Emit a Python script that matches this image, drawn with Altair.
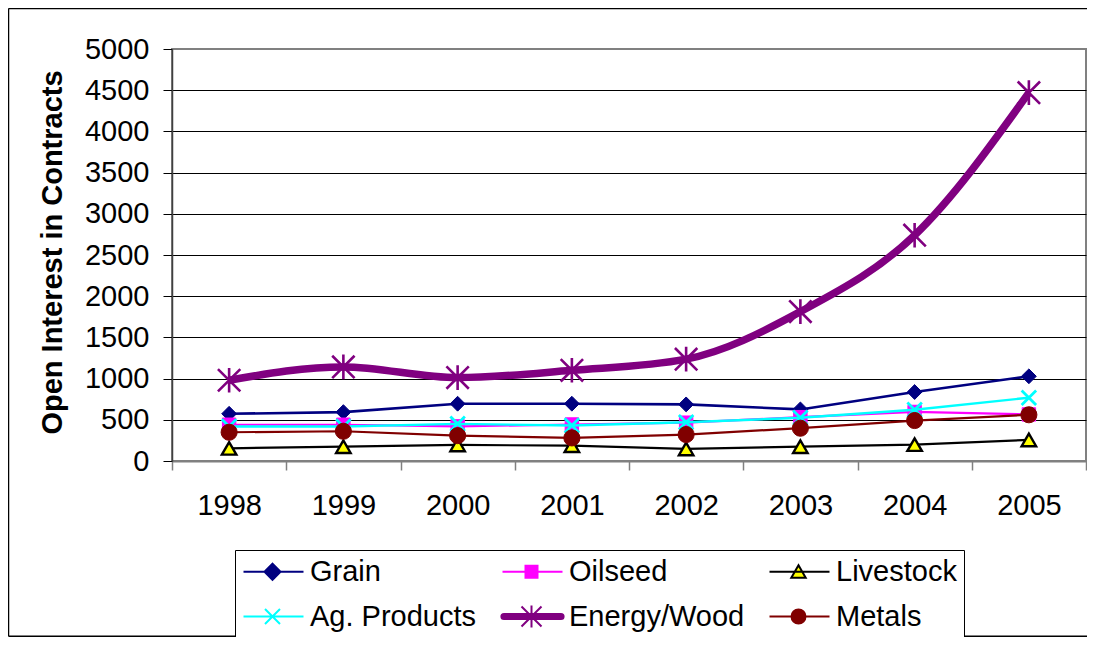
import altair as alt
import pandas as pd

years = ["1998", "1999", "2000", "2001", "2002", "2003", "2004", "2005"]
series_names = ["Grain", "Oilseed", "Livestock", "Ag. Products", "Energy/Wood", "Metals"]
grain = [573, 593, 695, 695, 687, 626, 837, 1028]
oilseed = [440, 440, 420, 443, 465, 532, 595, 565]
livestock = [154, 174, 195, 186, 146, 174, 199, 256]
ag_products = [418, 418, 451, 430, 471, 524, 622, 768]
energy_wood = [980, 1142, 1012, 1101, 1236, 1813, 2740, 4470]
metals = [349, 361, 308, 280, 321, 398, 491, 561]
y_ticks = [0, 500, 1000, 1500, 2000, 2500, 3000, 3500, 4000, 4500, 5000]

values = [grain, oilseed, livestock, ag_products, energy_wood, metals]
rows = []
for name, vals in zip(series_names, values):
    for yr, v in zip(years, vals):
        rows.append({"year": yr, "series": name, "value": v})
df = pd.DataFrame(rows)

FONT = "Liberation Sans"
line_colors = ["#000080", "#FF00FF", "#000000", "#00FFFF", "#800080", "#800000"]
fill_colors = ["#000080", "#FF00FF", "#FFFF00", "#00FFFF", "#800080", "#800000"]
stroke_colors = ["#000080", "#FF00FF", "#000000", "#00FFFF", "#800080", "#800000"]
line_widths = [2.6, 2.2, 2.2, 2.4, 7.5, 2.2]
interps = ["linear", "linear", "linear", "linear", "monotone", "linear"]

XPATH = "M-1,-1L1,1M-1,1L1,-1"
ASTER = "M-1,-1L1,1M-1,1L1,-1M0,-1.1V1.1"
marker_defs = [
    dict(shape="diamond", filled=True, fill="#000080", stroke="#000080", strokeWidth=1, size=220),
    dict(shape="square", filled=True, fill="#FF00FF", stroke="#FF00FF", strokeWidth=1, size=180),
    dict(shape="triangle-up", filled=True, fill="#FFFF00", stroke="#000000", strokeWidth=2.4, size=210),
    dict(shape=XPATH, filled=False, stroke="#00FFFF", strokeWidth=2.8, size=210),
    dict(shape=ASTER, filled=False, stroke="#800080", strokeWidth=2.6, size=500),
    dict(shape="circle", filled=True, fill="#800000", stroke="#800000", strokeWidth=1, size=260),
]

# legend glyphs: line segment plus marker (unit = 10 px, marker centred at x=1.6)
legend_paths = [
    "M-1.3,0H4.7M1.6,-0.8L2.4,0L1.6,0.8L0.8,0Z",
    "M-1.3,0H4.7M1,-0.6H2.2V0.6H1Z",
    "M-1.3,0H4.7M1.6,-0.65L2.32,0.6H0.88Z",
    "M-1.3,0H4.7M0.85,-0.75L2.35,0.75M0.85,0.75L2.35,-0.75",
    "M-1.15,-0.26H4.55A0.26,0.26 0 0,1 4.55,0.26H-1.15A0.26,0.26 0 0,1 -1.15,-0.26Z"
    "M0.6,-1L2.6,1M0.6,1L2.6,-1M1.6,-1.1V1.1",
    "M-1.3,0H4.7M0.9,0A0.7,0.7 0 1,0 2.3,0A0.7,0.7 0 1,0 0.9,0Z",
]

W, H = 914, 412

x_enc = alt.X(
    "year:O",
    scale=alt.Scale(paddingInner=0, paddingOuter=0, domain=years),
    axis=alt.Axis(
        title=None, labelAngle=0, tickBand="extent", tickSize=9, tickColor="#808080",
        tickWidth=1.5, domainColor="#808080", domainWidth=2, labelPadding=21,
        labelFont=FONT, labelFontSize=29, labelColor="black", grid=False,
    ),
)
y_enc = alt.Y(
    "value:Q",
    scale=alt.Scale(domain=[0, 5000], nice=False),
    axis=alt.Axis(
        values=y_ticks, format="d", title="Open Interest in Contracts",
        titleFont=FONT, titleFontSize=29, titleFontWeight="bold", titleColor="black",
        titleAngle=-90, titleX=-111, titleY=203, titleAlign="center", titleBaseline="alphabetic",
        labelFont=FONT, labelFontSize=29, labelColor="black", labelPadding=14,
        tickSize=9, tickColor="black", domainColor="#404040", domainWidth=1.5,
        grid=True, gridWidth=1,
        gridColor={"condition": {"test": "datum.value >= 5000 || datum.value <= 0", "value": "#808080"}, "value": "black"},
    ),
)

base = alt.Chart(df)
layers = []
for i, name in enumerate(series_names):
    sub = base.transform_filter(alt.datum.series == name)
    layers.append(
        sub.mark_line(color=line_colors[i], strokeWidth=line_widths[i], interpolate=interps[i]).encode(x=x_enc, y=y_enc)
    )
    layers.append(
        sub.mark_point(opacity=1, **marker_defs[i]).encode(x=x_enc, y=y_enc)
    )

legend_layer = base.transform_filter("false").mark_point(opacity=1, strokeWidth=2, filled=True).encode(
    x=x_enc,
    y=y_enc,
    shape=alt.Shape("series:N", scale=alt.Scale(domain=series_names, range=legend_paths),
                    legend=alt.Legend(title=None)),
    fill=alt.Fill("series:N", scale=alt.Scale(domain=series_names, range=fill_colors),
                  legend=alt.Legend(title=None)),
    stroke=alt.Stroke("series:N", scale=alt.Scale(domain=series_names, range=stroke_colors),
                      legend=alt.Legend(title=None)),
)
layers.append(legend_layer)

# outer chart frame (left, top, bottom edges)
frame_df = pd.DataFrame({"a": [0]})
frame_top = alt.Chart(frame_df).mark_rule(color="black", strokeWidth=1.5).encode(
    x=alt.value(-163.5), x2=alt.value(W + 1), y=alt.value(-40.5)
)
frame_left = alt.Chart(frame_df).mark_rule(color="black", strokeWidth=1.5).encode(
    x=alt.value(-163.5), y=alt.value(-40.5), y2=alt.value(H + 175.2)
)
frame_bottom = alt.Chart(frame_df).mark_rule(color="black", strokeWidth=1.5).encode(
    x=alt.value(-163.5), x2=alt.value(W + 1), y=alt.value(H + 175.2)
)
layers += [frame_top, frame_left, frame_bottom]

chart = alt.layer(*layers).properties(
    width=W, height=H,
    padding={"left": 164, "top": 41, "right": 1, "bottom": 176},
    autosize=alt.AutoSizeParams(type="none"),
    background="white",
).configure_view(
    stroke="#808080", strokeWidth=2
).configure_legend(
    orient="none", legendX=63, legendY=501, columns=3, direction="horizontal",
    symbolSize=400, symbolStrokeWidth=2, labelFont=FONT, labelFontSize=29,
    labelColor="black", labelOffset=39, columnPadding=20, rowPadding=14,
    padding=7, strokeColor="black", fillColor="white", gridAlign="each",
    labelLimit=400, symbolOpacity=1,
)

chart.save("out.html", embed_options={"renderer": "svg", "actions": False})
